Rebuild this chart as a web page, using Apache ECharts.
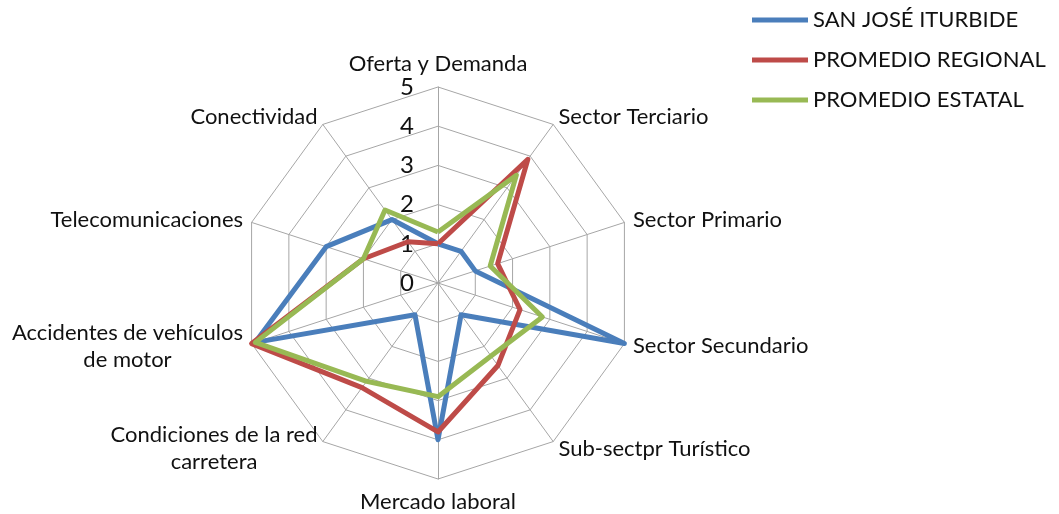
<!DOCTYPE html>
<html lang="es">
<head>
  <meta charset="UTF-8">
  <title>radar</title>
  <style>
    html, body, #eChart {
      margin: 0;
      padding: 0;
      width: 100%;
      height: 100%;
      background: #fff;
    }
  </style>
</head>
<body>
<div id="eChart"></div>

<script src="https://cdn.jsdelivr.net/npm/echarts@6/dist/echarts.min.js"></script>
<script>
  // ejes, en sentido horario desde arriba
  var categories = ['Oferta y Demanda', 'Sector Terciario', 'Sector Primario', 'Sector Secundario',
    'Sub-sectpr Turístico', 'Mercado laboral', 'Condiciones de la red\ncarretera',
    'Accidentes de vehículos\nde motor', 'Telecomunicaciones', 'Conectividad'];
  var seriesNames = ['SAN JOSÉ ITURBIDE', 'PROMEDIO REGIONAL', 'PROMEDIO ESTATAL'];
  var sanJose = [1.0, 1.0, 1.0, 5.0, 1.0, 4.0, 1.0, 4.9, 3.0, 2.0];
  var promRegional = [1.0, 3.9, 1.6, 2.2, 2.6, 3.8, 3.3, 5.0, 2.0, 1.3];
  var promEstatal = [1.3, 3.4, 1.4, 2.8, 2.3, 2.9, 3.1, 4.9, 2.0, 2.3];
  var maxValue = 5;
  var colors = ['#4a7ebb', '#be4b48', '#98b954'];

  var FONT = 'Lato';

  // echarts dibuja el radar en sentido antihorario: invertir el orden (salvo el primero)
  function ccw(arr) {
    return [arr[0]].concat(arr.slice(1).reverse());
  }

  var indicators = ccw(categories).map(function (name, i) {
    var ind = {name: name, max: maxValue, min: 0};
    if (i === 0) {
      ind.axisLabel = {show: true};
      ind.nameGap = 10;
    }
    return ind;
  });

  var allValues = [sanJose, promRegional, promEstatal];

  var chart = echarts.init(document.getElementById('eChart'));
  chart.setOption({
    animation: false,
    color: colors,
    legend: {
      data: seriesNames,
      orient: 'vertical',
      left: 747,
      top: 4,
      icon: 'rect',
      itemWidth: 56,
      itemHeight: 5,
      itemGap: 18,
      textStyle: {fontFamily: FONT, fontSize: 22, color: '#111', lineHeight: 22}
    },
    radar: {
      center: [438, 283],
      radius: 196,
      shape: 'polygon',
      splitNumber: 5,
      nameGap: 9,
      axisName: {
        color: '#111',
        fontFamily: FONT,
        fontSize: 22,
        formatter: function (name) {
          return name.split('\n').map(function (l) { return '{c|' + l + '}'; }).join('\n');
        },
        rich: {
          c: {align: 'center', fontFamily: FONT, fontSize: 22, color: '#111', lineHeight: 27}
        }
      },
      axisLine: {lineStyle: {color: '#a6a6a6', width: 1}},
      splitLine: {lineStyle: {color: '#a6a6a6', width: 1}},
      splitArea: {show: false},
      axisTick: {show: false},
      axisLabel: {show: false, fontFamily: FONT, fontSize: 24, color: '#111', margin: 24},
      indicator: indicators
    },
    series: [{
      type: 'radar',
      symbol: 'none',
      lineStyle: {width: 5},
      data: allValues.map(function (vals, i) {
        return {
          name: seriesNames[i],
          value: ccw(vals),
          lineStyle: {color: colors[i], width: 5},
          itemStyle: {color: colors[i]}
        };
      })
    }]
  });
</script>
</body>
</html>
